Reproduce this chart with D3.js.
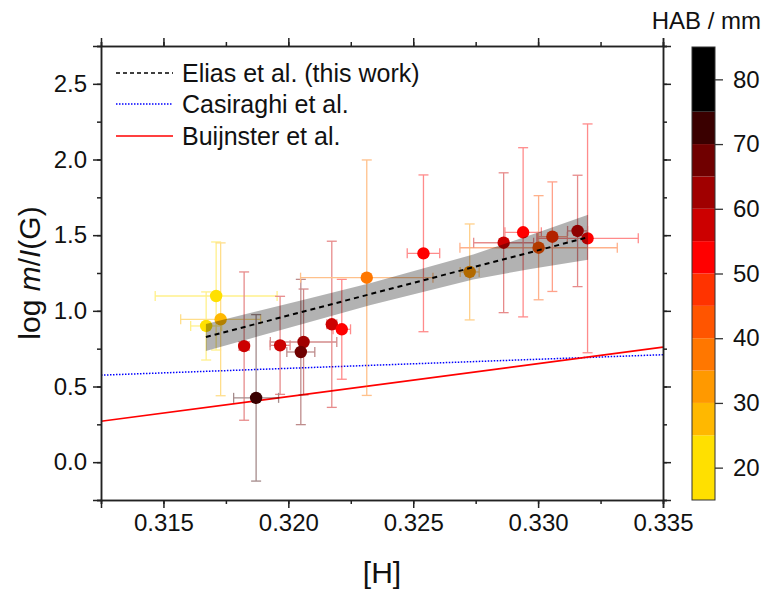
<!DOCTYPE html>
<html><head><meta charset="utf-8">
<script src="https://cdn.jsdelivr.net/npm/d3@7"></script>
<style>body{margin:0;background:#fff}text{font-family:Arial,"Liberation Sans",sans-serif}</style>
</head><body>
<svg id="c" width="766" height="590"></svg>
<script>
// ---- data ----
const hX   = [0.31711,0.31729,0.31671,0.31823,0.31967,0.32061,0.32050,0.31871,0.32174,0.32214,0.32314,0.32541,0.32726,0.33002,0.32862,0.32940,0.33057,0.33158,0.33198];
const logM = [1.098,0.944,0.900,0.767,0.772,0.794,0.728,0.425,0.911,0.878,1.219,1.380,1.257,1.417,1.450,1.519,1.490,1.528,1.479];
const xErr = [0.00244,0.0016,0.00062,0.0002,0.0004,0.00133,0.00056,0.0009,0.0002,0.00035,0.00265,0.00065,0.00038,0.00315,0.0012,0.00073,0.0006,0.0004,0.00203];
const yErr = [0.357,0.505,0.225,0.49,0.324,0.35,0.48,0.55,0.549,0.33,0.778,0.518,0.317,0.344,0.462,0.559,0.362,0.368,0.756];
const hab  = [20,27,20,57,57,62,67,72,57,52,37,52,33,43,57,52,47,57,52];

const fitX = [0.3167,0.3320];
const fitY = [0.827,1.486];
const bandX  = [0.3167,0.3205,0.3233,0.3274,0.3297,0.3320];
const bandLo = [0.734,0.910,1.038,1.207,1.277,1.337];
const bandHi = [0.913,1.068,1.184,1.373,1.501,1.635];

const refX = [0.3125,0.335];
const casiraghiY = [0.575,0.71];
const buijnsterY = [0.27,0.76];

const xTicks = [0.315,0.320,0.325,0.330,0.335];
const yTicks = [0.0,0.5,1.0,1.5,2.0,2.5];
const habTicks = [20,30,40,50,60,70,80];
const habBreaks = [25,30,35,40,45,50,55,60,65,70,75];
const habColors = ["#FFE000","#FFB800","#FF9900","#FF7700","#FF5500","#FF3300","#FF0000","#CC0000","#A00000","#700000","#3A0000","#000000"];
const legendLabels = ["Elias et al. (this work)","Casiraghi et al.","Buijnster et al."];

// ---- layout ----
const svg = d3.select("#c");
const L=101, R=663, T=46, B=500;
const x = d3.scaleLinear().domain([0.3125,0.335]).range([L,R]);
const y = d3.scaleLinear().domain([-0.25,2.75]).range([B,T]);
const col = d3.scaleThreshold().domain(habBreaks).range(habColors);

svg.append("defs").append("clipPath").attr("id","clip")
  .append("rect").attr("x",L).attr("y",T).attr("width",R-L).attr("height",B-T);
const g = svg.append("g").attr("clip-path","url(#clip)");

// reference lines
const refLine = d3.line().x(d=>x(d[0])).y(d=>y(d[1]));
g.append("path").datum(refX.map((v,i)=>[v,casiraghiY[i]]))
  .attr("d",refLine).attr("fill","none").attr("stroke","#0000FF").attr("stroke-width",1.5).attr("stroke-dasharray","1.5,1.5");
g.append("path").datum(refX.map((v,i)=>[v,buijnsterY[i]]))
  .attr("d",refLine).attr("fill","none").attr("stroke","#FF0000").attr("stroke-width",1.6);

// error bars
const pts = hX.map((v,i)=>({x:v,y:logM[i],xe:xErr[i],ye:yErr[i],c:col(hab[i])}));
const eb = g.append("g").attr("stroke-width",1.3).attr("opacity",0.45);
const cap=5;
pts.forEach(p=>{
  const e = eb.append("g").attr("stroke",p.c);
  e.append("line").attr("x1",x(p.x)).attr("x2",x(p.x)).attr("y1",y(p.y-p.ye)).attr("y2",y(p.y+p.ye));
  e.append("line").attr("x1",x(p.x)-cap).attr("x2",x(p.x)+cap).attr("y1",y(p.y-p.ye)).attr("y2",y(p.y-p.ye));
  e.append("line").attr("x1",x(p.x)-cap).attr("x2",x(p.x)+cap).attr("y1",y(p.y+p.ye)).attr("y2",y(p.y+p.ye));
  e.append("line").attr("x1",x(p.x-p.xe)).attr("x2",x(p.x+p.xe)).attr("y1",y(p.y)).attr("y2",y(p.y));
  e.append("line").attr("x1",x(p.x-p.xe)).attr("x2",x(p.x-p.xe)).attr("y1",y(p.y)-cap).attr("y2",y(p.y)+cap);
  e.append("line").attr("x1",x(p.x+p.xe)).attr("x2",x(p.x+p.xe)).attr("y1",y(p.y)-cap).attr("y2",y(p.y)+cap);
});
// points
g.append("g").selectAll("circle").data(pts).join("circle")
  .attr("cx",d=>x(d.x)).attr("cy",d=>y(d.y)).attr("r",6.2).attr("fill",d=>d.c);

// confidence band (over points)
g.append("path").datum(bandX.map((v,i)=>[v,bandLo[i],bandHi[i]]))
  .attr("d",d3.area().x(d=>x(d[0])).y0(d=>y(d[1])).y1(d=>y(d[2])))
  .attr("fill","#000").attr("fill-opacity",0.3);
// fit line
g.append("path").datum(fitX.map((v,i)=>[v,fitY[i]]))
  .attr("d",refLine).attr("fill","none").attr("stroke","#000").attr("stroke-width",2).attr("stroke-dasharray","5,4");

// axes
const fmtX = d3.format(".3f"), fmtY = d3.format(".1f");
const minorX = d3.range(0,10).map(i=>0.3125+i*0.0025);
const minorY = d3.range(0,13).map(i=>-0.25+i*0.25);
function drawAxis(ag, scale, tv, mv, fmt, labels, orient){
  const minorGen = orient(scale).tickValues(mv).tickSize(4).tickFormat("");
  const majorGen = orient(scale).tickValues(tv).tickSize(8).tickFormat(labels?fmt:"").tickPadding(6);
  ag.append("g").call(minorGen);
  ag.append("g").call(majorGen);
  ag.selectAll("path.domain").attr("stroke","#222").attr("stroke-width",1.5);
  ag.selectAll("line").attr("stroke","#222").attr("stroke-width",1.5);
  ag.selectAll("text").attr("font-size",24).attr("fill","#111").style("font-family","Arial, 'Liberation Sans', sans-serif");
}
drawAxis(svg.append("g").attr("transform",`translate(0,${B})`), x, xTicks, minorX, fmtX, true, d3.axisBottom);
drawAxis(svg.append("g").attr("transform",`translate(0,${T})`), x, xTicks, minorX, fmtX, false, d3.axisTop);
drawAxis(svg.append("g").attr("transform",`translate(${L},0)`), y, yTicks, minorY, fmtY, true, d3.axisLeft);
drawAxis(svg.append("g").attr("transform",`translate(${R},0)`), y, yTicks, minorY, fmtY, false, d3.axisRight);

// axis titles
svg.append("text").attr("x",(L+R)/2).attr("y",583).attr("text-anchor","middle").attr("font-size",30).attr("fill","#111").text("[H]");
const yt = svg.append("text").attr("transform",`translate(40,${(T+B)/2}) rotate(-90)`).attr("text-anchor","middle").attr("font-size",30).attr("fill","#111");
yt.append("tspan").text("log ");
yt.append("tspan").attr("font-style","italic").text("m");
yt.append("tspan").text("/");
yt.append("tspan").attr("font-style","italic").text("I");
yt.append("tspan").text("(G)");

// legend
const legY=[73,104,136];
const lg = svg.append("g");
const styles=[{s:"#000",d:"4,3",w:1.5},{s:"#0000FF",d:"1.5,1.5",w:1.5},{s:"#FF0000",d:null,w:1.6}];
legendLabels.forEach((t,i)=>{
  lg.append("line").attr("x1",116).attr("x2",173).attr("y1",legY[i]).attr("y2",legY[i])
    .attr("stroke",styles[i].s).attr("stroke-width",styles[i].w).attr("stroke-dasharray",styles[i].d);
  lg.append("text").attr("x",182).attr("y",legY[i]+9).attr("font-size",25).attr("fill","#111").text(t);
});

// colorbar
const cb = d3.scaleLinear().domain([15,85]).range([500,47]);
const cbX=692, cbW=23;
const edges=[15].concat(habBreaks,[85]);
const cbg = svg.append("g");
habColors.forEach((c,i)=>{
  cbg.append("rect").attr("x",cbX).attr("width",cbW).attr("y",cb(edges[i+1])).attr("height",cb(edges[i])-cb(edges[i+1])).attr("fill",c);
});
cbg.append("rect").attr("x",cbX).attr("width",cbW).attr("y",cb(85)).attr("height",cb(15)-cb(85)).attr("fill","none").attr("stroke","#333").attr("stroke-width",1);
const cba = svg.append("g").attr("transform",`translate(${cbX+cbW},0)`)
  .call(d3.axisRight(cb).tickValues(habTicks).tickSize(8).tickPadding(10));
cba.select("path.domain").remove();
cba.selectAll("line").attr("stroke","#333").attr("stroke-width",1.3);
cba.selectAll("text").attr("font-size",24).attr("fill","#111").style("font-family","Arial, 'Liberation Sans', sans-serif");
svg.append("text").attr("x",761).attr("y",29).attr("text-anchor","end").attr("font-size",24).attr("fill","#111").text("HAB / mm");
</script>
</body></html>
